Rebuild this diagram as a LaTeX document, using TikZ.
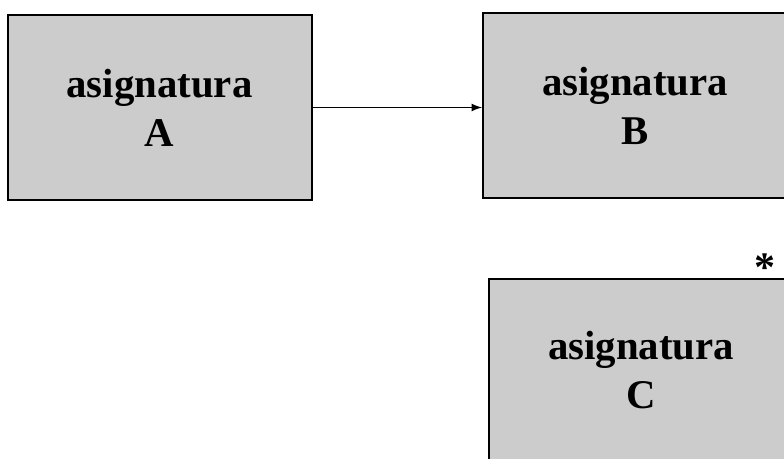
\documentclass[tikz,border=0pt]{standalone}
\usepackage{fontspec}
\setmainfont{Liberation Serif}
\usepackage{tikz}
\usetikzlibrary{arrows, positioning}

\begin{document}
\begin{tikzpicture}[
        x=0.5pt, y=-0.5pt,
        course/.style={rectangle, draw=black, fill=black!20, line width=1pt, minimum width=152pt, minimum height=92.5pt, align=center, font=\fontsize{20.4}{24.5}\selectfont\bfseries},
        arrow/.style={-latex, line width=0.8pt, black},
        mark note/.style={font=\fontsize{21}{24}\selectfont\bfseries}
    ]
        \useasboundingbox (0,0) rectangle (784,459);

        % Top row
        \node[course] (subjA) at (159.5,107.5) {asignatura\\A};
        \node[course] (subjB) at (635,105.5) {asignatura\\B};

        \draw[arrow] (subjA.east) -- (subjA.east -| subjB.west);

        % Lower box
        \node[course, minimum height=91pt] (subjC) at (641,370) {asignatura\\C};
        \node[mark note] (star) at (765,268) {*};

    \end{tikzpicture}
\end{document}
